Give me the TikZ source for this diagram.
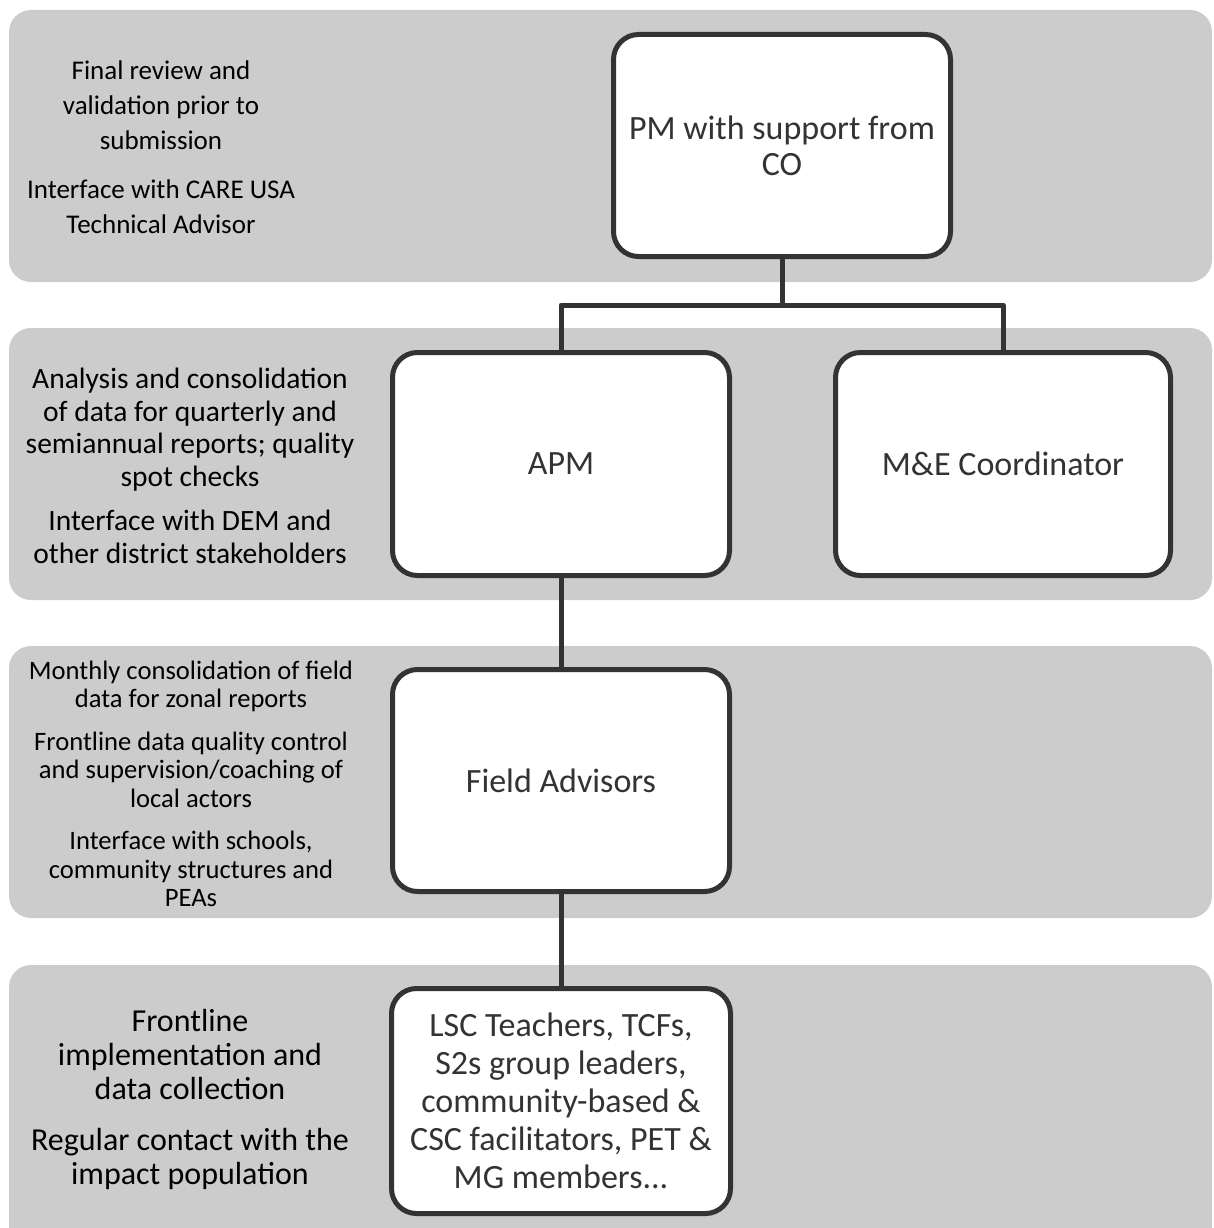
\documentclass[tikz,border=0pt]{standalone}
\usepackage{fontspec}
\setmainfont{Carlito}
\definecolor{bandgray}{HTML}{CCCCCC}
\definecolor{linegray}{HTML}{333333}
\begin{document}
\begin{tikzpicture}[x=1pt,y=-1pt,
  band/.style={fill=bandgray,draw=none,rounded corners=22pt},
  rolebox/.style={draw=linegray,line width=5pt,fill=white,rounded corners=25pt,
    rectangle,outer sep=0pt,align=center,text=linegray,inner sep=0pt},
  conn/.style={draw=linegray,line width=5pt},
  note/.style={align=center,text=black,inner sep=0pt}]
\clip (0,0) rectangle (1213,1228);
\fill[white] (0,0) rectangle (1213,1228);
% bands
\path[band] (9,10) rectangle (1212,282);
\path[band] (9,328) rectangle (1212,600);
\path[band] (9,646) rectangle (1212,918);
\path[band] (9,965) rectangle (1212,1260);
% boxes
\node[rolebox,minimum width=337pt,minimum height=222pt,
  font=\fontsize{34}{36}\selectfont] (pm) at (782,145.5) {PM with support from\\CO};
\node[rolebox,minimum width=337pt,minimum height=223pt,
  font=\fontsize{34}{36}\selectfont] (apm) at (561,464) {APM};
\node[rolebox,minimum width=335pt,minimum height=223pt,
  font=\fontsize{34}{36}\selectfont] (me) at (1003,464) {M\&E Coordinator};
\node[rolebox,minimum width=337pt,minimum height=222pt,
  font=\fontsize{34}{36}\selectfont] (fa) at (561,780.5) {Field Advisors};
\node[rolebox,minimum width=339pt,minimum height=225pt,
  font=\fontsize{34}{38}\selectfont] (lsc) at (561,1101)
  {LSC Teachers, TCFs,\\S2s group leaders,\\community-based \&\\CSC facilitators, PET \&\\MG members...};
% connectors
\coordinate (j) at (782,305);
\draw[conn] (pm.south) -- (j);
\draw[conn,line join=round] (j) -| (apm.north);
\draw[conn,line join=round] (j) -| (me.north);
\draw[conn] (apm.south) -- (fa.north);
\draw[conn] (fa.south) -- (lsc.north);
% notes
\node[note,font=\fontsize{27}{35}\selectfont] (n1) at (161,147)
  {Final review and\\validation prior to\\submission\\[14pt]Interface with CARE USA\\Technical Advisor};
\node[note,font=\fontsize{29.5}{32.5}\selectfont] (n2) at (190,466)
  {Analysis and consolidation\\of data for quarterly and\\semiannual reports; quality\\spot checks\\[12pt]Interface with DEM and\\other district stakeholders};
\node[note,font=\fontsize{26.6}{28.5}\selectfont] (n3) at (191,784)
  {Monthly consolidation of field\\data for zonal reports\\[14pt]Frontline data quality control\\and supervision/coaching of\\local actors\\[14pt]Interface with schools,\\community structures and\\PEAs};
\node[note,font=\fontsize{32}{34}\selectfont] (n4) at (190,1099)
  {Frontline\\implementation and\\data collection\\[17pt]Regular contact with the\\impact population};
\end{tikzpicture}
\end{document}
